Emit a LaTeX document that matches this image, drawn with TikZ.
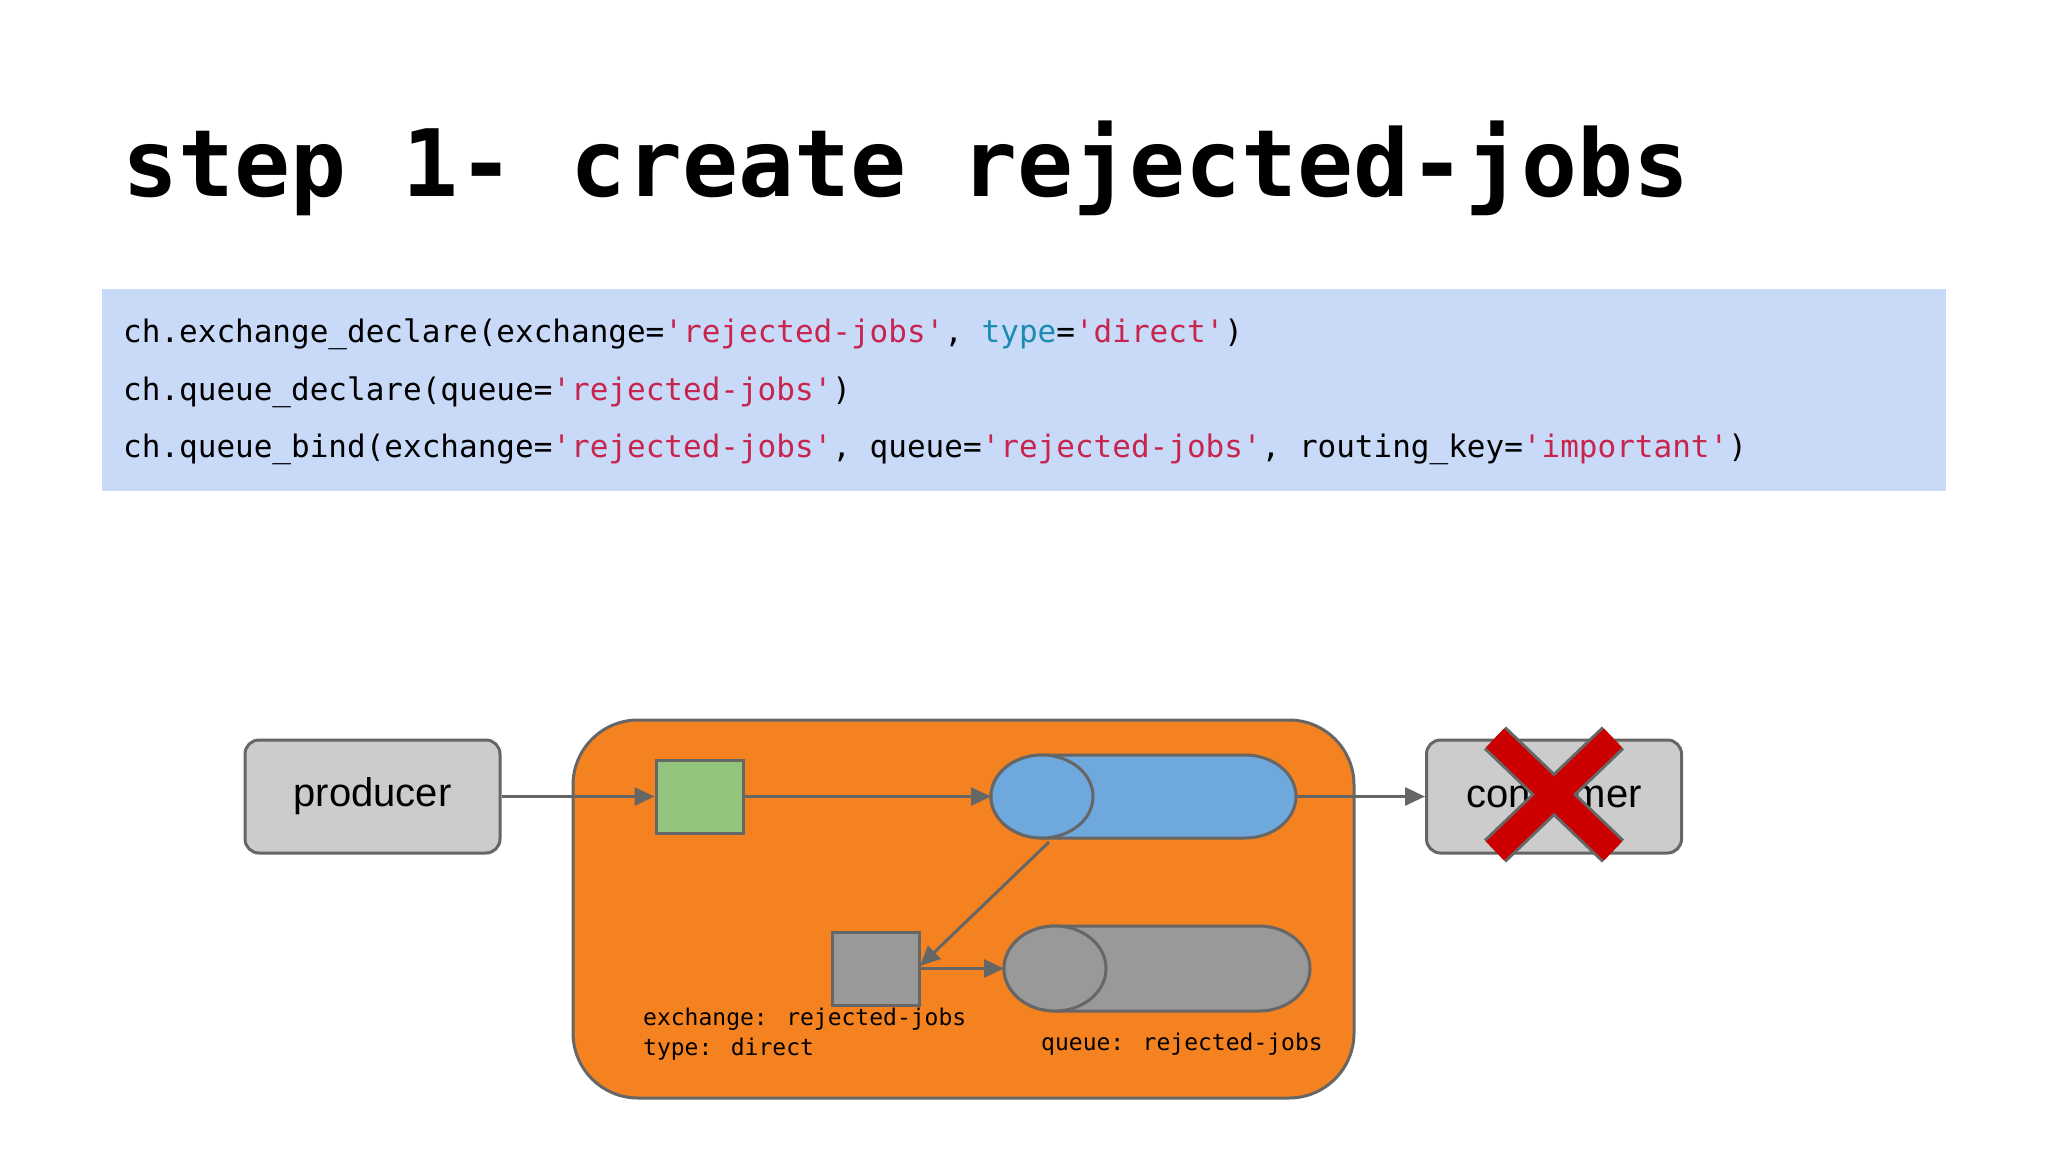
\documentclass[tikz,border=0pt]{standalone}
\usepackage{fontspec}
\setmainfont{Liberation Sans}
\newfontfamily\codefont{DejaVu Sans Mono}
\usetikzlibrary{arrows.meta}
\definecolor{ln}{HTML}{666666}
\definecolor{codebg}{HTML}{C9DAF8}
\definecolor{orng}{HTML}{F58220}
\definecolor{grn}{HTML}{93C47D}
\definecolor{blu}{HTML}{6FA8DC}
\definecolor{gry}{HTML}{999999}
\definecolor{lgry}{HTML}{CCCCCC}
\definecolor{strc}{HTML}{C7254E}
\definecolor{kwc}{HTML}{1A8CB0}
\definecolor{xred}{HTML}{CC0000}
\newcommand{\sq}[1]{\textcolor{strc}{'#1'}}
\tikzset{
  conn/.style={draw=ln,line width=3pt,-{Triangle[length=20pt,width=18pt]}},
  gbox/.style={draw=ln,line width=3pt,fill=lgry,rounded corners=14pt,minimum width=255pt,minimum height=113pt,font=\fontsize{40}{48}\selectfont},
  sqbox/.style={draw=ln,line width=3pt,minimum width=87pt,minimum height=73pt,inner sep=0pt},
  lbl/.style={font=\codefont\fontsize{23}{30}\selectfont,anchor=base west,inner sep=0pt},
  codel/.style={font=\codefont\fontsize{31}{36}\selectfont,anchor=base west,inner sep=0pt},
}
\begin{document}
\begin{tikzpicture}[x=1pt,y=-1pt]
\useasboundingbox (0,0) rectangle (2048,1152);
\fill[white] (0,0) rectangle (2048,1152);
\node[font=\codefont\bfseries\fontsize{93}{100}\selectfont,anchor=base west,inner sep=0pt] (title) at (122,196) {step 1- create rejected-jobs};
\fill[codebg] (102,289) rectangle (1946,491);
\node[codel] (c1) at (123,342) {ch.exchange\_declare(exchange=\sq{rejected-jobs}, \textcolor{kwc}{type}=\sq{direct})};
\node[codel] (c2) at (123,400) {ch.queue\_declare(queue=\sq{rejected-jobs})};
\node[codel] (c3) at (123,457) {ch.queue\_bind(exchange=\sq{rejected-jobs}, queue=\sq{rejected-jobs}, routing\_key=\sq{important})};
% broker
\node[draw=ln,line width=3pt,fill=orng,rounded corners=65pt,minimum width=781pt,minimum height=378pt] (broker) at (963.5,909) {};
\node[gbox] (producer) at (372.5,796.5) {producer};
\node[gbox] (consumer) at (1554,796.5) {consumer};
\node[sqbox,fill=grn] (ex) at (699.5,796.5) {};
\node[sqbox,fill=gry] (rex) at (876,968.5) {};
% blue queue
\draw[ln,line width=3pt,fill=blu] (1042,755) -- (1245,755) arc[start angle=-90,end angle=90,x radius=51,y radius=41.5] -- (1042,838) arc[start angle=90,end angle=270,x radius=51,y radius=41.5] -- cycle;
\draw[ln,line width=3pt,fill=blu] (1042,796.5) ellipse[x radius=51,y radius=41.5];
\coordinate (qin) at (991,796.5);
\coordinate (qout) at (1296,796.5);
\coordinate (qbot) at (1049,842);
% grey queue
\draw[ln,line width=3pt,fill=gry] (1055,926) -- (1259,926) arc[start angle=-90,end angle=90,x radius=51,y radius=42.5] -- (1055,1011) arc[start angle=90,end angle=270,x radius=51,y radius=42.5] -- cycle;
\draw[ln,line width=3pt,fill=gry] (1055,968.5) ellipse[x radius=51,y radius=42.5];
\coordinate (rqin) at (1004,968.5);
\coordinate (rexin) at (920,966);
% connectors
\draw[conn] (producer.east) -- (ex.west);
\draw[conn] (ex.east) -- (qin);
\draw[conn] (qout) -- (consumer.west);
\draw[conn] (qbot) -- (rexin);
\draw[conn] (rex.east) -- (rqin);
% labels
\node[lbl] (l1) at (643,1025) {exchange: rejected-jobs};
\node[lbl] (l2) at (643,1055) {type: direct};
\node[lbl] (l3) at (1041,1050) {queue: rejected-jobs};
% red X
\draw[ln,line width=32pt] (1495,738) -- (1613,851) (1613,738) -- (1495,851);
\draw[xred,line width=26pt] (1495,738) -- (1613,851) (1613,738) -- (1495,851);
\end{tikzpicture}
\end{document}
